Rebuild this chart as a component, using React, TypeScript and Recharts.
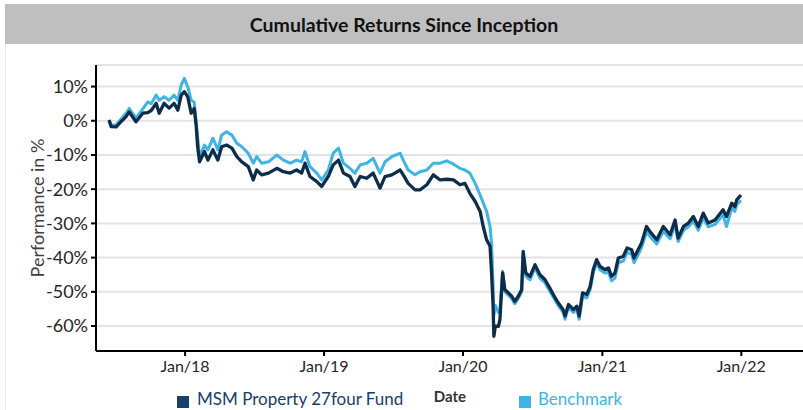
import React from 'react';
import { LineChart, Line, XAxis, YAxis, CartesianGrid } from 'recharts';

const dates = [
  '2017-06-15','2017-06-21','2017-07-04','2017-07-13','2017-07-30','2017-08-07','2017-08-25','2017-09-12','2017-09-25','2017-10-04',
  '2017-10-17','2017-10-25','2017-11-07','2017-11-20','2017-12-03','2017-12-13','2017-12-22','2017-12-30','2018-01-08','2018-01-17',
  '2018-01-25','2018-01-30','2018-02-03','2018-02-08','2018-02-21','2018-03-02','2018-03-15','2018-03-28','2018-04-07','2018-04-20',
  '2018-05-04','2018-05-17','2018-05-30','2018-06-16','2018-06-29','2018-07-08','2018-07-21','2018-08-08','2018-08-30','2018-09-16',
  '2018-10-04','2018-10-21','2018-11-03','2018-11-12','2018-11-25','2018-12-13','2018-12-26','2019-01-12','2019-01-25','2019-02-08',
  '2019-02-21','2019-03-10','2019-03-23','2019-04-06','2019-04-23','2019-05-10','2019-05-28','2019-06-10','2019-06-28','2019-07-20',
  '2019-07-28','2019-08-10','2019-08-28','2019-09-10','2019-09-28','2019-10-15','2019-11-02','2019-11-19','2019-12-07','2019-12-24',
  '2020-01-06','2020-01-19','2020-02-02','2020-02-15','2020-02-23','2020-03-03','2020-03-12','2020-03-16','2020-03-20','2020-03-22',
  '2020-03-26','2020-04-03','2020-04-07','2020-04-14','2020-04-20','2020-04-29','2020-05-08','2020-05-16','2020-05-25','2020-06-03',
  '2020-06-07','2020-06-14','2020-06-25','2020-07-08','2020-07-21','2020-08-03','2020-08-16','2020-08-30','2020-09-07','2020-09-20',
  '2020-09-25','2020-10-04','2020-10-17','2020-10-26','2020-11-01','2020-11-10','2020-11-21','2020-11-30','2020-12-08','2020-12-17',
  '2020-12-26','2021-01-08','2021-01-17','2021-01-25','2021-02-03','2021-02-12','2021-02-25','2021-03-07','2021-03-19','2021-03-25',
  '2021-04-05','2021-04-14','2021-04-27','2021-05-06','2021-05-24','2021-06-10','2021-06-28','2021-07-11','2021-07-19','2021-08-02',
  '2021-08-15','2021-08-28','2021-09-10','2021-09-23','2021-10-06','2021-10-24','2021-11-14','2021-11-23','2021-12-07','2021-12-15',
  '2021-12-20','2021-12-31',
];

const fundValues = [
  0.2, -1.7, -1.8, -0.7, 1.2, 2.6, -0.3, 2.2, 2.4, 3.0,
  5.1, 2.2, 5.1, 3.7, 5.1, 3.1, 7.5, 8.5, 7.0, 2.2,
  3.6, -1.3, -7.6, -12.0, -9.0, -11.5, -8.5, -11.5, -7.6, -7.1,
  -8.0, -10.5, -12.0, -13.4, -17.3, -14.4, -15.8, -15.3, -13.9, -14.9,
  -15.3, -14.4, -15.3, -12.4, -16.3, -17.8, -19.2, -16.3, -12.9, -11.5,
  -15.3, -16.3, -19.2, -16.3, -16.8, -15.3, -19.7, -16.3, -15.8, -14.4,
  -15.8, -18.3, -20.2, -20.2, -18.7, -15.8, -17.3, -17.1, -17.3, -18.7,
  -18.3, -21.2, -23.6, -26.5, -30.9, -34.8, -36.7, -44.5, -54.2, -63.0,
  -60.0, -60.1, -58.1, -44.5, -49.4, -50.3, -51.3, -52.8, -51.3, -49.4,
  -38.2, -44.5, -45.5, -42.1, -45.0, -46.4, -48.9, -51.8, -53.2, -55.2,
  -57.1, -53.7, -55.2, -54.2, -57.1, -50.3, -50.8, -48.4, -43.5, -40.6,
  -42.6, -43.5, -43.0, -45.5, -44.5, -40.1, -39.6, -37.2, -37.7, -40.1,
  -37.7, -35.7, -30.9, -32.4, -34.8, -30.9, -33.3, -29.0, -34.3, -30.9,
  -29.9, -28.0, -30.9, -27.0, -29.9, -29.0, -26.0, -28.0, -24.1, -25.1,
  -23.1, -21.7,
];

const benchmarkValues = [
  0.2, -1.2, -1.3, 0.0, 2.2, 3.6, 0.8, 3.5, 5.5, 5.0,
  7.5, 6.0, 7.0, 6.0, 7.5, 6.0, 10.5, 12.4, 9.9, 6.0,
  5.4, -0.2, -4.7, -10.5, -7.1, -8.5, -5.1, -8.5, -4.2, -3.2,
  -4.2, -6.6, -7.6, -9.5, -12.4, -10.5, -12.4, -12.0, -10.0, -11.5,
  -12.4, -11.5, -12.0, -9.0, -13.4, -15.3, -17.3, -14.4, -9.5, -8.0,
  -12.4, -13.9, -15.3, -12.9, -12.4, -11.0, -15.3, -12.0, -10.5, -9.5,
  -11.5, -14.4, -15.8, -14.9, -14.4, -12.4, -12.4, -11.7, -12.7, -13.9,
  -14.4, -15.3, -18.3, -21.7, -24.0, -26.5, -30.9, -36.0, -48.0, -57.0,
  -54.0, -56.0, -55.0, -44.0, -50.0, -51.0, -52.0, -53.5, -52.0, -50.0,
  -39.5, -45.5, -46.5, -43.0, -46.0, -47.3, -49.8, -52.5, -54.0, -56.0,
  -58.0, -54.5, -56.0, -55.0, -58.0, -51.3, -51.8, -49.4, -44.5, -41.5,
  -43.6, -44.5, -44.3, -46.8, -46.0, -41.5, -41.0, -38.5, -39.0, -41.5,
  -39.2, -37.0, -32.5, -33.8, -36.0, -32.3, -34.5, -30.3, -35.3, -32.0,
  -31.0, -29.3, -32.0, -28.5, -31.0, -30.3, -27.5, -30.9, -25.5, -26.5,
  -24.5, -23.3,
];

const yTicks = [-60, -50, -40, -30, -20, -10, 0, 10];
const xTickDates = ['2018-01-01', '2019-01-01', '2020-01-01', '2021-01-01', '2022-01-01'];

const data = dates.map((d, i) => ({
  t: Date.parse(d),
  fund: fundValues[i],
  benchmark: benchmarkValues[i],
}));

const xTicks = xTickDates.map((d) => Date.parse(d));
const xDomain = [Date.parse('2017-05-12'), Date.parse('2022-06-12')];

const FUND_COLOR = '#0e2d4a';
const BENCH_COLOR = '#3fb4e5';
const FONT = 'Lato, "Open Sans", sans-serif';

const fmtX = (t: number) => 'Jan/' + String(new Date(t).getUTCFullYear()).slice(2);
const fmtY = (v: number) => `${v}%`;

export default function App() {
  return (
    <div style={{ position: 'absolute', left: 0, top: 0, width: 803, height: 410, background: '#fff', overflow: 'hidden', fontFamily: FONT }}>
      <div style={{ position: 'absolute', left: 5, top: 44, width: 1, height: 366, background: '#ececec' }} />
      <div
        style={{
          position: 'absolute', left: 5, top: 4, width: 798, height: 40, background: '#bfbfbf',
          display: 'flex', alignItems: 'center', justifyContent: 'center',
          fontWeight: 700, fontSize: 19.5, color: '#111', fontFamily: FONT,
        }}
      >
        Cumulative Returns Since Inception
      </div>
      <div style={{ position: 'absolute', left: 0, top: 0 }}>
        <LineChart width={803} height={410} data={data} margin={{ top: 65, right: 0, bottom: 0, left: 0 }}>
          <CartesianGrid vertical={false} stroke="#e3e3e3" strokeWidth={2} />
          <XAxis
            dataKey="t"
            type="number"
            scale="time"
            domain={xDomain}
            ticks={xTicks}
            tickFormatter={fmtX}
            height={59}
            tickSize={5}
            tickMargin={5}
            stroke="#000"
            strokeWidth={2}
            tick={{ fill: '#262626', fontSize: 16, fontFamily: FONT }}
            allowDataOverflow
          />
          <YAxis
            type="number"
            domain={[-67.3, 16.3]}
            ticks={yTicks}
            tickFormatter={fmtY}
            width={96}
            tickSize={5}
            tickMargin={3}
            stroke="#000"
            strokeWidth={2}
            tick={{ fill: '#262626', fontSize: 18, fontFamily: FONT }}
            allowDataOverflow
          />
          <Line type="linear" dataKey="benchmark" stroke={BENCH_COLOR} strokeWidth={3} dot={false} isAnimationActive={false} strokeLinejoin="round" />
          <Line type="linear" dataKey="fund" stroke={FUND_COLOR} strokeWidth={3.3} dot={false} isAnimationActive={false} strokeLinejoin="round" />
        </LineChart>
      </div>
      <div
        style={{
          position: 'absolute', left: 37, top: 208, transform: 'translate(-50%, -50%) rotate(-90deg)',
          whiteSpace: 'nowrap', fontSize: 18, color: '#404040', fontFamily: FONT,
        }}
      >
        Performance in %
      </div>
      <div style={{ position: 'absolute', left: 450, top: 396, transform: 'translate(-50%, -50%)', fontSize: 15, fontWeight: 700, color: '#333', fontFamily: FONT }}>
        Date
      </div>
      <div style={{ position: 'absolute', left: 177, top: 396, width: 12, height: 12, background: '#17406b' }} />
      <div style={{ position: 'absolute', left: 197, top: 389, fontSize: 17, lineHeight: '20px', color: '#17406b', whiteSpace: 'nowrap', fontFamily: FONT }}>
        MSM Property 27four Fund
      </div>
      <div style={{ position: 'absolute', left: 519, top: 396, width: 12, height: 12, background: BENCH_COLOR }} />
      <div style={{ position: 'absolute', left: 538, top: 389, fontSize: 17, lineHeight: '20px', color: BENCH_COLOR, whiteSpace: 'nowrap', fontFamily: FONT }}>
        Benchmark
      </div>
    </div>
  );
}
